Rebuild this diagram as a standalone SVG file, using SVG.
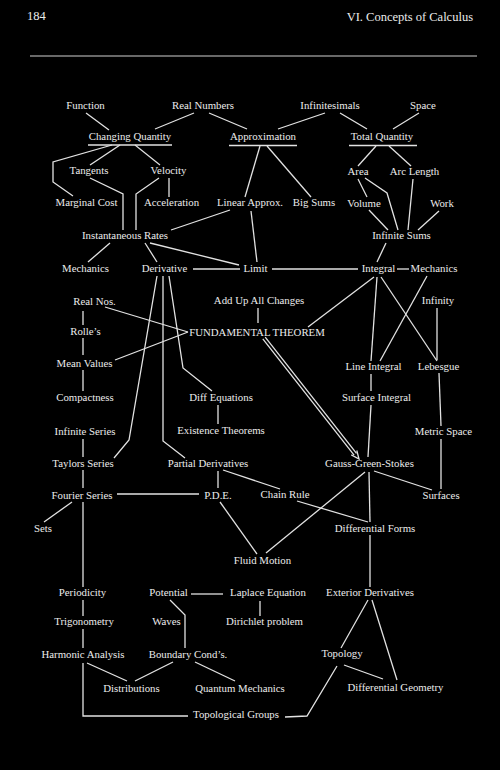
<svg xmlns="http://www.w3.org/2000/svg" width="500" height="770" viewBox="0 0 500 770">
<style>
text{font-family:"Liberation Serif","Times New Roman",serif;font-size:10.8px;fill:#ececec;text-anchor:middle}
.hd{font-size:12.5px}
#connectors line,#connectors polyline,.ul{stroke:#e2e2e2;stroke-width:1.3;fill:none}
</style>
<rect width="500" height="770" fill="#000"/>
<g id="header">
<text class="hd" x="27" y="20" style="text-anchor:start">184</text>
<text class="hd" x="473" y="21" style="text-anchor:end">VI.  Concepts of Calculus</text>
<line x1="30" y1="56" x2="477" y2="56" stroke="#d0d0d0" stroke-width="1.2"/>
</g>
<g id="connectors">
<line x1="86" y1="113" x2="109" y2="130"/>
<line x1="194" y1="113" x2="155" y2="129"/>
<line x1="209" y1="113" x2="247" y2="129"/>
<line x1="325" y1="113" x2="278" y2="129"/>
<line x1="340" y1="113" x2="367" y2="129"/>
<line x1="419" y1="113" x2="393" y2="129"/>
<line x1="120" y1="145" x2="90" y2="165"/>
<line x1="135" y1="145" x2="160" y2="165"/>
<polyline points="112,145 53,162 53,182 73,196"/>
<line x1="260" y1="146" x2="245" y2="197"/>
<line x1="267" y1="146" x2="311" y2="197"/>
<line x1="376" y1="146" x2="358" y2="166"/>
<line x1="389" y1="146" x2="411" y2="166"/>
<line x1="169" y1="178" x2="169" y2="197"/>
<polyline points="159,178 136,194 136,230"/>
<polyline points="90,178 123,194 123,230"/>
<line x1="230" y1="210" x2="171" y2="230"/>
<line x1="251" y1="211" x2="257" y2="262"/>
<line x1="358" y1="179" x2="367" y2="197"/>
<polyline points="365,178 387,193 398,230"/>
<line x1="413" y1="179" x2="408" y2="230"/>
<line x1="369" y1="210" x2="388" y2="230"/>
<line x1="439" y1="211" x2="418" y2="230"/>
<line x1="110" y1="243" x2="88" y2="262"/>
<line x1="145" y1="243" x2="157" y2="262"/>
<line x1="150" y1="243" x2="239" y2="265"/>
<line x1="386" y1="243" x2="377" y2="262"/>
<line x1="193" y1="269" x2="240" y2="269"/>
<line x1="272" y1="269" x2="358" y2="269"/>
<line x1="397" y1="269" x2="409" y2="269"/>
<line x1="105" y1="307" x2="188" y2="332"/>
<line x1="115" y1="360" x2="188" y2="332"/>
<line x1="258" y1="308" x2="258" y2="323"/>
<line x1="374" y1="277" x2="308" y2="327"/>
<polyline points="157,276 129,440 114,458"/>
<polyline points="163,276 163,441 185,458"/>
<polyline points="169,276 183,368 212,391"/>
<line x1="83" y1="311" x2="83" y2="325"/>
<line x1="83" y1="338" x2="83" y2="355"/>
<line x1="83" y1="370" x2="83" y2="391"/>
<line x1="377" y1="277" x2="371" y2="361"/>
<line x1="381" y1="277" x2="437" y2="361"/>
<line x1="427" y1="276" x2="380" y2="361"/>
<line x1="437" y1="308" x2="437" y2="360"/>
<line x1="371" y1="374" x2="371" y2="391"/>
<line x1="439" y1="373" x2="441" y2="426"/>
<line x1="218" y1="405" x2="218" y2="424"/>
<line x1="371" y1="405" x2="368" y2="457"/>
<line x1="265.2" y1="337.1" x2="356.5" y2="453.4"/>
<line x1="262.8" y1="338.9" x2="354.1" y2="455.2"/>
<polyline points="356.8,450.5 359,459 351.3,454.9"/>
<line x1="83" y1="439" x2="83" y2="457"/>
<line x1="83" y1="470" x2="83" y2="488"/>
<line x1="441" y1="439" x2="441" y2="489"/>
<line x1="117" y1="494" x2="199" y2="494"/>
<line x1="218" y1="471" x2="218" y2="488"/>
<line x1="223" y1="470" x2="280" y2="489"/>
<line x1="297" y1="501" x2="368" y2="522"/>
<line x1="365" y1="472" x2="266" y2="553"/>
<line x1="369" y1="472" x2="370" y2="522"/>
<line x1="374" y1="471" x2="432" y2="490"/>
<line x1="220" y1="502" x2="257" y2="554"/>
<line x1="72" y1="502" x2="44" y2="522"/>
<line x1="83" y1="502" x2="83" y2="587"/>
<line x1="370" y1="535" x2="370" y2="587"/>
<line x1="191" y1="594" x2="223" y2="594"/>
<line x1="83" y1="600" x2="83" y2="616"/>
<line x1="83" y1="629" x2="83" y2="648"/>
<line x1="260" y1="601" x2="260" y2="616"/>
<polyline points="170,600 185,615 185,648"/>
<line x1="368" y1="600" x2="341" y2="648"/>
<line x1="372" y1="600" x2="397" y2="680"/>
<line x1="344" y1="665" x2="383" y2="679"/>
<polyline points="337,666 307,716 285,717"/>
<line x1="87" y1="663" x2="127" y2="681"/>
<line x1="173" y1="662" x2="135" y2="681"/>
<line x1="195" y1="662" x2="235" y2="681"/>
<polyline points="83,663 83,716 188,716"/>
</g>
<g id="n-function"><text x="85.5" y="109">Function</text></g>
<g id="n-realnumbers"><text x="203" y="109">Real Numbers</text></g>
<g id="n-infinitesimals"><text x="330" y="109">Infinitesimals</text></g>
<g id="n-space"><text x="423" y="109">Space</text></g>
<g id="n-changingquantity"><text x="130" y="140">Changing Quantity</text><line class="ul" x1="88" y1="145" x2="172" y2="145"/></g>
<g id="n-approximation"><text x="263" y="140">Approximation</text><line class="ul" x1="229" y1="145.5" x2="297" y2="145.5"/></g>
<g id="n-totalquantity"><text x="382" y="140">Total Quantity</text><line class="ul" x1="349" y1="145.5" x2="417" y2="145.5"/></g>
<g id="n-tangents"><text x="89" y="174">Tangents</text></g>
<g id="n-velocity"><text x="168.5" y="174">Velocity</text></g>
<g id="n-area"><text x="358" y="174.5">Area</text></g>
<g id="n-arclength"><text x="414.5" y="174.5">Arc Length</text></g>
<g id="n-marginalcost"><text x="86.5" y="206">Marginal Cost</text></g>
<g id="n-acceleration"><text x="171.5" y="206">Acceleration</text></g>
<g id="n-linearapprox"><text x="250" y="206">Linear Approx.</text></g>
<g id="n-bigsums"><text x="314" y="206">Big Sums</text></g>
<g id="n-volume"><text x="364" y="206.5">Volume</text></g>
<g id="n-work"><text x="442" y="206.5">Work</text></g>
<g id="n-instantaneousrates"><text x="125" y="239">Instantaneous Rates</text></g>
<g id="n-infinitesums"><text x="401.5" y="239">Infinite Sums</text></g>
<g id="n-mechanics1"><text x="85.5" y="272">Mechanics</text></g>
<g id="n-derivative"><text x="164.5" y="272">Derivative</text></g>
<g id="n-limit"><text x="255.5" y="272">Limit</text></g>
<g id="n-integral"><text x="378.5" y="272">Integral</text></g>
<g id="n-mechanics2"><text x="434" y="272">Mechanics</text></g>
<g id="n-realnos"><text x="94.5" y="304.5">Real Nos.</text></g>
<g id="n-addup"><text x="259" y="303.5">Add Up All Changes</text></g>
<g id="n-infinity"><text x="438" y="304">Infinity</text></g>
<g id="n-rolles"><text x="85.5" y="335">Rolle’s</text></g>
<g id="n-fundamental"><text x="257" y="335.5">FUNDAMENTAL THEOREM</text></g>
<g id="n-meanvalues"><text x="84.5" y="367">Mean Values</text></g>
<g id="n-lineintegral"><text x="373.5" y="369.5">Line Integral</text></g>
<g id="n-lebesgue"><text x="438.5" y="369.5">Lebesgue</text></g>
<g id="n-compactness"><text x="85" y="400.5">Compactness</text></g>
<g id="n-diffequations"><text x="221" y="401">Diff Equations</text></g>
<g id="n-surfaceintegral"><text x="376.5" y="400.5">Surface Integral</text></g>
<g id="n-infiniteseries"><text x="85" y="434.5">Infinite Series</text></g>
<g id="n-existence"><text x="221" y="434">Existence Theorems</text></g>
<g id="n-metricspace"><text x="443.5" y="434.5">Metric Space</text></g>
<g id="n-taylors"><text x="83" y="466.5">Taylors Series</text></g>
<g id="n-partialderivatives"><text x="208" y="467">Partial Derivatives</text></g>
<g id="n-gaussgreenstokes"><text x="369.5" y="467">Gauss-Green-Stokes</text></g>
<g id="n-fourier"><text x="82" y="498.5">Fourier Series</text></g>
<g id="n-pde"><text x="218" y="498.5">P.D.E.</text></g>
<g id="n-chainrule"><text x="285" y="498">Chain Rule</text></g>
<g id="n-surfaces"><text x="441" y="498.5">Surfaces</text></g>
<g id="n-sets"><text x="43" y="532">Sets</text></g>
<g id="n-differentialforms"><text x="375" y="532">Differential Forms</text></g>
<g id="n-fluidmotion"><text x="262.5" y="564">Fluid Motion</text></g>
<g id="n-periodicity"><text x="82.5" y="596">Periodicity</text></g>
<g id="n-potential"><text x="168.5" y="596">Potential</text></g>
<g id="n-laplace"><text x="268" y="596">Laplace Equation</text></g>
<g id="n-exterior"><text x="370" y="596">Exterior Derivatives</text></g>
<g id="n-trigonometry"><text x="84" y="625">Trigonometry</text></g>
<g id="n-waves"><text x="166.5" y="625">Waves</text></g>
<g id="n-dirichlet"><text x="264.5" y="625">Dirichlet problem</text></g>
<g id="n-harmonic"><text x="83" y="658">Harmonic Analysis</text></g>
<g id="n-boundary"><text x="188" y="658">Boundary Cond’s.</text></g>
<g id="n-topology"><text x="342" y="657">Topology</text></g>
<g id="n-distributions"><text x="131.5" y="691.5">Distributions</text></g>
<g id="n-quantum"><text x="240" y="691.5">Quantum Mechanics</text></g>
<g id="n-diffgeometry"><text x="395.5" y="691">Differential Geometry</text></g>
<g id="n-topgroups"><text x="236" y="718">Topological Groups</text></g>
</svg>
